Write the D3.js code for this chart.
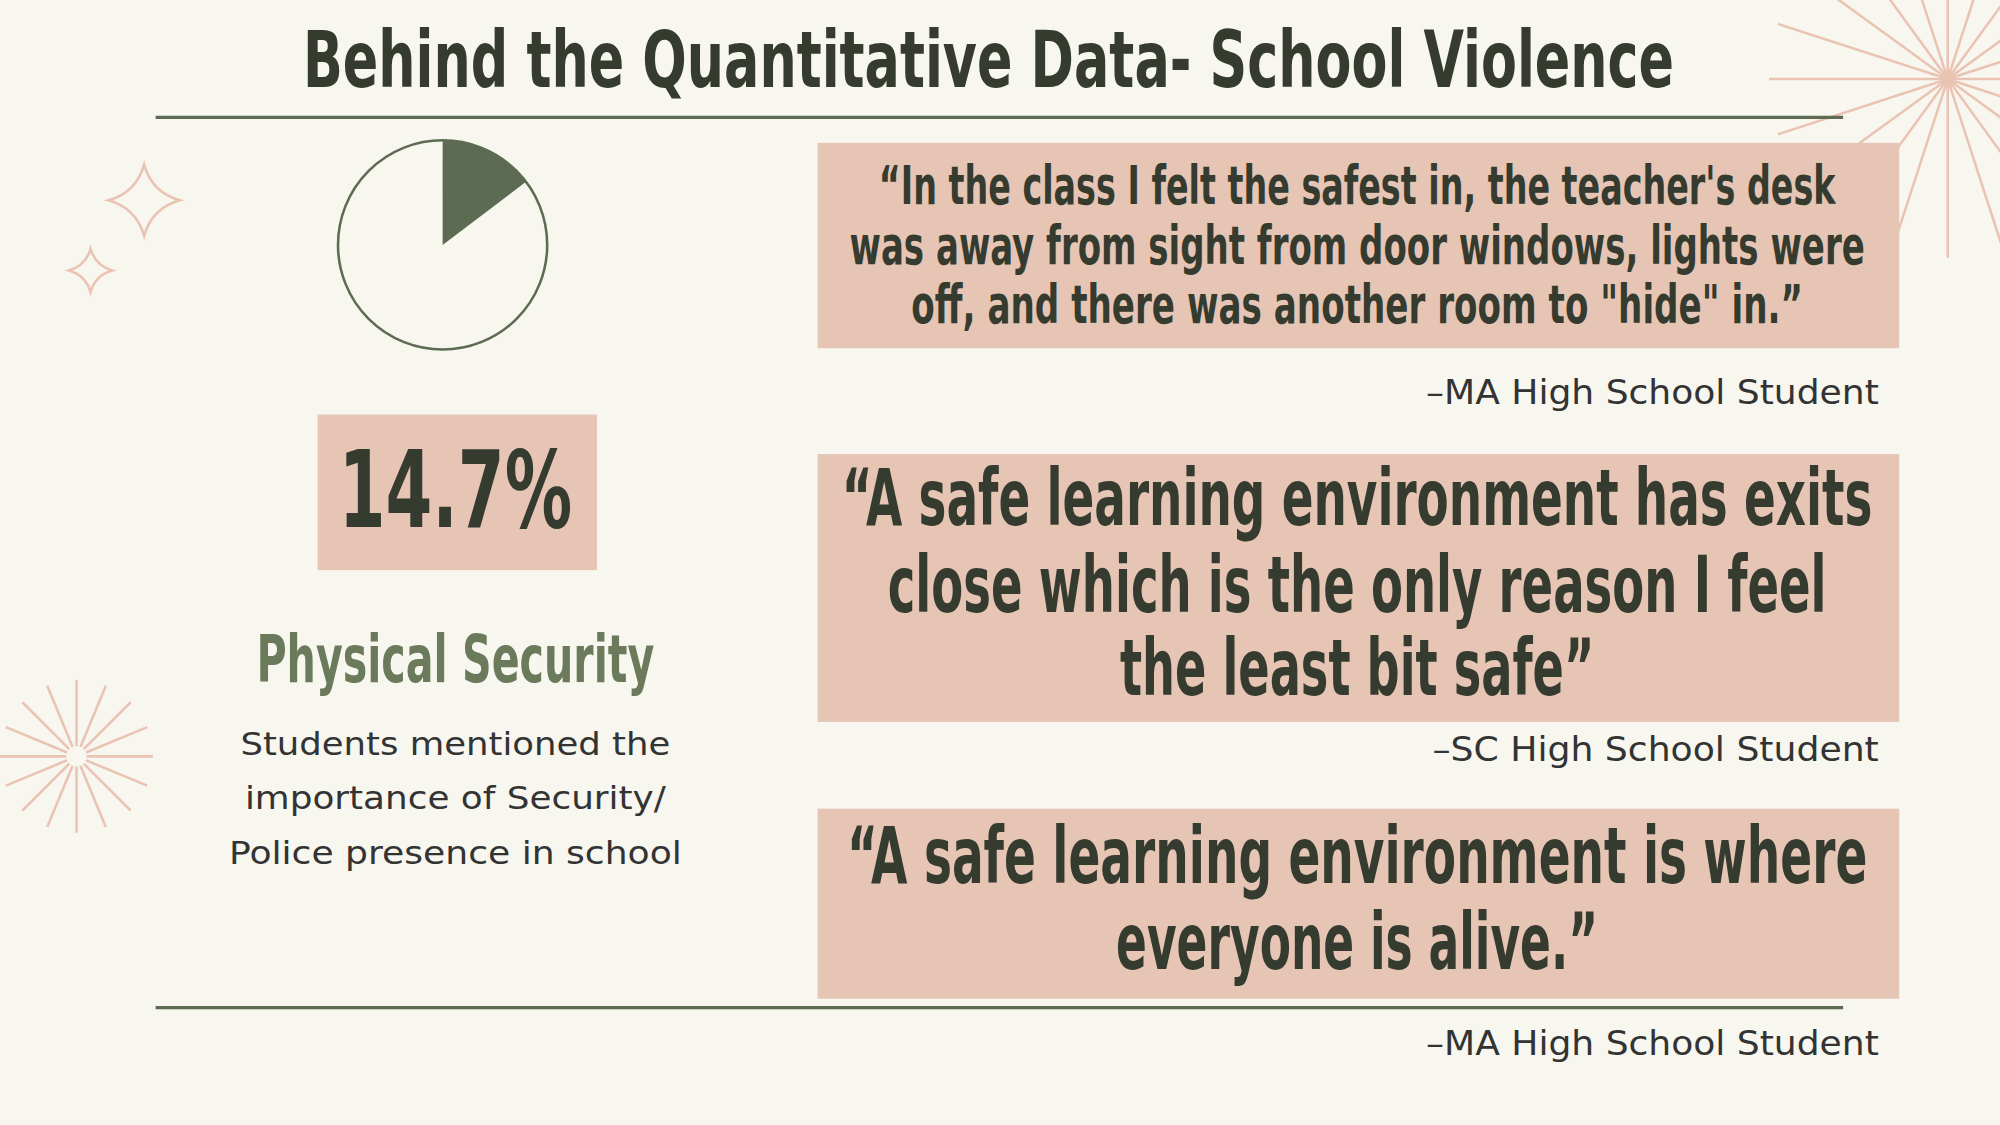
<!DOCTYPE html>
<html><head><meta charset="utf-8">
<script src="https://cdn.jsdelivr.net/npm/d3@7"></script>
<style>body{margin:0;background:#f7f7f0}</style></head>
<body><svg id="c" width="2000" height="1125"></svg>
<script>
const title = "Behind the Quantitative Data- School Violence";
const pieValues = [14.7, 85.3];
const statLabel = "14.7%";
const statTitle = "Physical Security";
const statBody = ["Students mentioned the","importance of Security/","Police presence in school"];
const quotes = [
 ["“In the class I felt the safest in, the teacher's desk","was away from sight from door windows, lights were","off, and there was another room to \"hide\" in.”"],
 ["“A safe learning environment has exits","close which is the only reason I feel","the least bit safe”"],
 ["“A safe learning environment is where","everyone is alive.”"]
];
const attributions = ["–MA High School Student","–SC High School Student","–MA High School Student"];

const S = 2000/1568;
const svg = d3.select("#c");
svg.append("rect").attr("width",2000).attr("height",1125).attr("fill","#f7f7f0");
const g = svg.append("g").attr("transform",`scale(${S})`);
const cond = "'DejaVu Sans Condensed','DejaVu Sans',sans-serif";
const body = "'DejaVu Sans',sans-serif";
const dark="#363b30", green="#5d6b52", pink="#e6c5b5", deco="#eac3b2";
function txt(x,y,s,size,w,opts={}){
  const t=g.append("text").attr("x",x).attr("y",y).text(s).attr("font-size",size)
   .attr("font-family",opts.font||cond).attr("fill",opts.fill||dark)
   .attr("text-anchor",opts.anchor||"middle").attr("font-weight",opts.weight||"bold");
  if(w) t.attr("textLength",w).attr("lengthAdjust","spacingAndGlyphs");
  return t;
}
function burst(cx,cy,r,n,r0){for(let i=0;i<n;i++){const a=i*2*Math.PI/n;
  g.append("line").attr("x1",cx+r0*Math.cos(a)).attr("y1",cy+r0*Math.sin(a)).attr("x2",cx+r*Math.cos(a)).attr("y2",cy+r*Math.sin(a)).attr("stroke",deco).attr("stroke-width",2);}}
burst(1527,62,140,20,0);
g.append("circle").attr("cx",1527).attr("cy",62).attr("r",6).attr("fill",deco);
burst(60,593,60,16,8);
function sparkle(cx,cy,r){const k=r*0.22;
  g.append("path").attr("d",`M${cx},${cy-r} Q${cx+k},${cy-k} ${cx+r},${cy} Q${cx+k},${cy+k} ${cx},${cy+r} Q${cx-k},${cy+k} ${cx-r},${cy} Q${cx-k},${cy-k} ${cx},${cy-r}Z`).attr("fill","none").attr("stroke",deco).attr("stroke-width",2);}
sparkle(113,157,28); sparkle(71,212,17);
txt(775,68,title,62,1075);
[92,790].forEach(y=>g.append("line").attr("x1",122).attr("x2",1445).attr("y1",y).attr("y2",y).attr("stroke",green).attr("stroke-width",2.5));
const pie=d3.pie().sort(null)(pieValues);
const arc=d3.arc().innerRadius(0).outerRadius(82);
const pg=g.append("g").attr("transform","translate(347,192)");
pg.append("circle").attr("r",82).attr("fill","none").attr("stroke",green).attr("stroke-width",2);
pg.append("path").attr("d",arc(pie[0])).attr("fill",green);
g.append("rect").attr("x",249).attr("y",325).attr("width",219).attr("height",122).attr("fill",pink);
txt(357,413,statLabel,84,183);
txt(357,535,statTitle,52,312,{fill:"#6b7a5a"});
const bodyW=[337,330,355];
statBody.forEach((s,i)=>txt(357,592+i*42.5,s,25,bodyW[i],{font:body,weight:"normal",fill:"#333"}));
const boxes=[[112,273],[356,566],[634,783]];
const qConf=[{size:42,base:[160,207,253],w:[750,796,699]},{size:62,base:[412,480,545],w:[808,736,372]},{size:62,base:[692,760],w:[800,378]}];
boxes.forEach((b,i)=>{
  g.append("rect").attr("x",641).attr("y",b[0]).attr("width",848).attr("height",b[1]-b[0]).attr("fill",pink);
  quotes[i].forEach((l,j)=>txt(1064,qConf[i].base[j],l,qConf[i].size,qConf[i].w[j]));
});
const attW=[355,350,355];
[317,597,827].forEach((y,i)=>txt(1473,y,attributions[i],26,attW[i],{anchor:"end",font:body,weight:"normal",fill:"#333"}));
</script></body></html>
